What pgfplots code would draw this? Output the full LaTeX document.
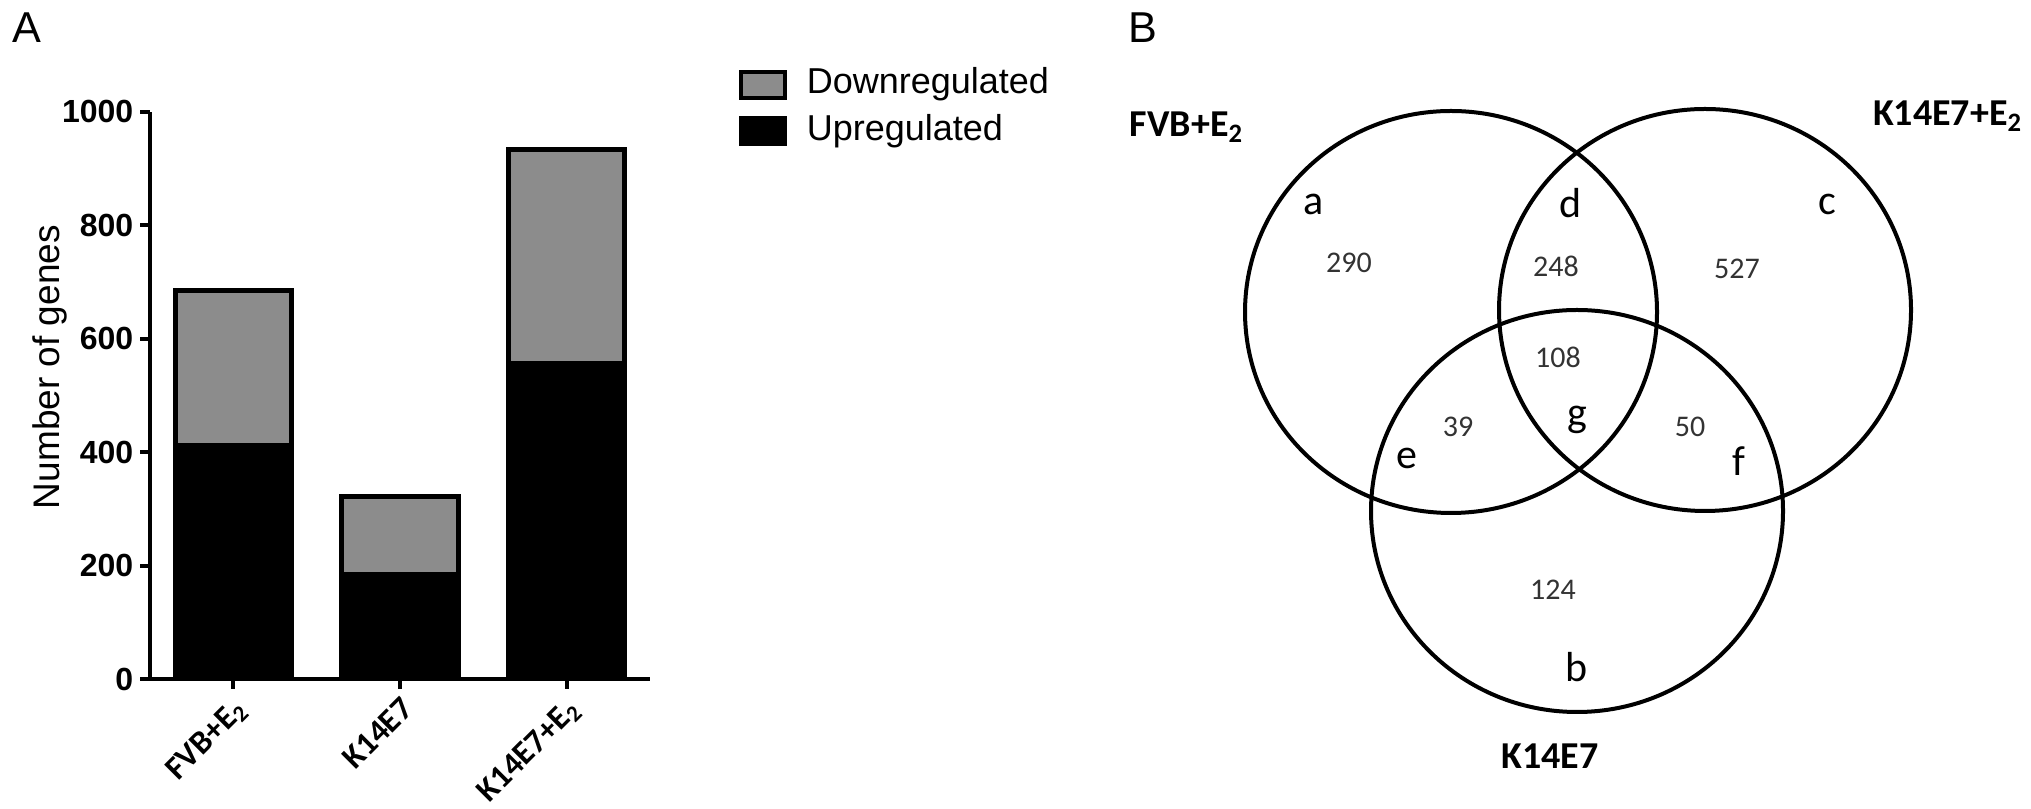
\documentclass[border=0pt]{standalone}
\usepackage{fontspec}
\setmainfont{Liberation Sans}
\newfontfamily\carlito{Carlito}
\usepackage{pgfplots}
\usepackage{pgfplotstable}
\pgfplotsset{compat=1.18}
\definecolor{downgray}{RGB}{140,140,140}
\definecolor{numgray}{RGB}{51,51,51}

% layout in reference pixels: 1 px = 0.25pt (2031 x 809)
\pgfplotstableread{
x up down
0 411 274
1 184 137
2 557 376
}\genes

% Venn region counts and region letters, at pixel positions
\pgfplotstableread{
x y n
1349 263 290
1556 266 248
1737 269 527
1558 357 108
1458 427 39
1690 427 50
1553 590 124
}\counts

\pgfplotstableread{
x y l
1314 204 a
1571 203 d
1827 204 c
1577 420 g
1407 458 e
1739 461 f
1577 667 b
}\regions

\begin{document}
\begin{tikzpicture}
\path[use as bounding box] (0,0) rectangle (507.75pt,202.25pt);

\begin{axis}[
  at={(37.5pt,32.5pt)}, anchor=south west,
  scale only axis, width=125pt, height=141.75pt,
  ybar stacked, bar width=29pt,
  xmin=-0.5, xmax=2.5, ymin=0, ymax=1000,
  xtick={0,1,2},
  xticklabels={FVB+E\textsubscript{2}, K14E7, K14E7+E\textsubscript{2}},
  ytick={0,200,...,1000},
  axis x line*=bottom, axis y line*=left,
  axis line style={line width=1pt},
  tick style={line width=1pt, black},
  major tick length=2.5pt, tick align=outside,
  /pgf/number format/assume math mode=true,
  /pgf/number format/1000 sep={},
  yticklabel style={font=\bfseries\fontsize{8}{9}\selectfont, inner sep=1.5pt},
  xticklabel style={font=\carlito\bfseries\fontsize{8.25}{9}\selectfont, rotate=45, anchor=north east, inner sep=1pt},
  ylabel={Number of genes},
  ylabel style={font=\fontsize{9.25}{11}\selectfont, at={(axis description cs:-0.2,0.55)}, anchor=center},
  legend image code/.code={\draw[#1, line width=1pt] (0pt,-3.25pt) rectangle (11pt,3.25pt);},
  reverse legend, legend cell align=left,
  legend style={at={(1.176,1.079)}, anchor=north west, draw=none, fill=none, inner sep=0pt,
    font=\fontsize{9}{10.8}\selectfont, row sep=3.2pt, column sep=5pt,
    nodes={inner sep=0pt, text height=6.5pt, text depth=1.9pt}},
]
\addplot[fill=black, draw=black, line width=1.25pt] table[x=x, y=up]{\genes};
\addplot[fill=downgray, draw=black, line width=1.25pt] table[x=x, y=down]{\genes};
\legend{Upregulated, Downregulated}
\end{axis}

\begin{axis}[
  at={(0pt,0pt)}, anchor=south west,
  scale only axis, width=507.75pt, height=202.25pt,
  xmin=0, xmax=2031, ymin=0, ymax=809, y dir=reverse,
  hide axis, clip=false,
]
\node[font=\fontsize{10.8}{13}\selectfont] at (axis cs:27,28) {A};
\node[font=\fontsize{10.8}{13}\selectfont] at (axis cs:1143,28) {B};
\draw[line width=1pt] (axis cs:1451,312) ellipse [x radius=51.5pt, y radius=50.25pt];
\draw[line width=1pt] (axis cs:1705,310) ellipse [x radius=51.5pt, y radius=50.25pt];
\draw[line width=1pt] (axis cs:1577,511) ellipse [x radius=51.5pt, y radius=50.25pt];
\node[anchor=base, font=\carlito\bfseries\fontsize{9.5}{11}\selectfont] at (axis cs:1187,137) {FVB+E\textsubscript{2}};
\node[anchor=base, font=\carlito\bfseries\fontsize{9.5}{11}\selectfont] at (axis cs:1948,126) {K14E7+E\textsubscript{2}};
\node[anchor=base, font=\carlito\bfseries\fontsize{9.5}{11}\selectfont] at (axis cs:1550,769) {K14E7};
\addplot[only marks, mark=*, mark size=0pt, mark options={draw=none, fill=none},
  nodes near coords, point meta=explicit symbolic,
  nodes near coords style={anchor=center, inner sep=0pt, text=numgray, font=\carlito\fontsize{7.5}{9}\selectfont}]
  table[x=x, y=y, meta=n]{\counts};
\addplot[only marks, mark=*, mark size=0pt, mark options={draw=none, fill=none},
  nodes near coords, point meta=explicit symbolic,
  nodes near coords style={anchor=center, inner sep=0pt, text=black, font=\carlito\fontsize{10.5}{12}\selectfont}]
  table[x=x, y=y, meta=l]{\regions};
\end{axis}
\end{tikzpicture}
\end{document}
